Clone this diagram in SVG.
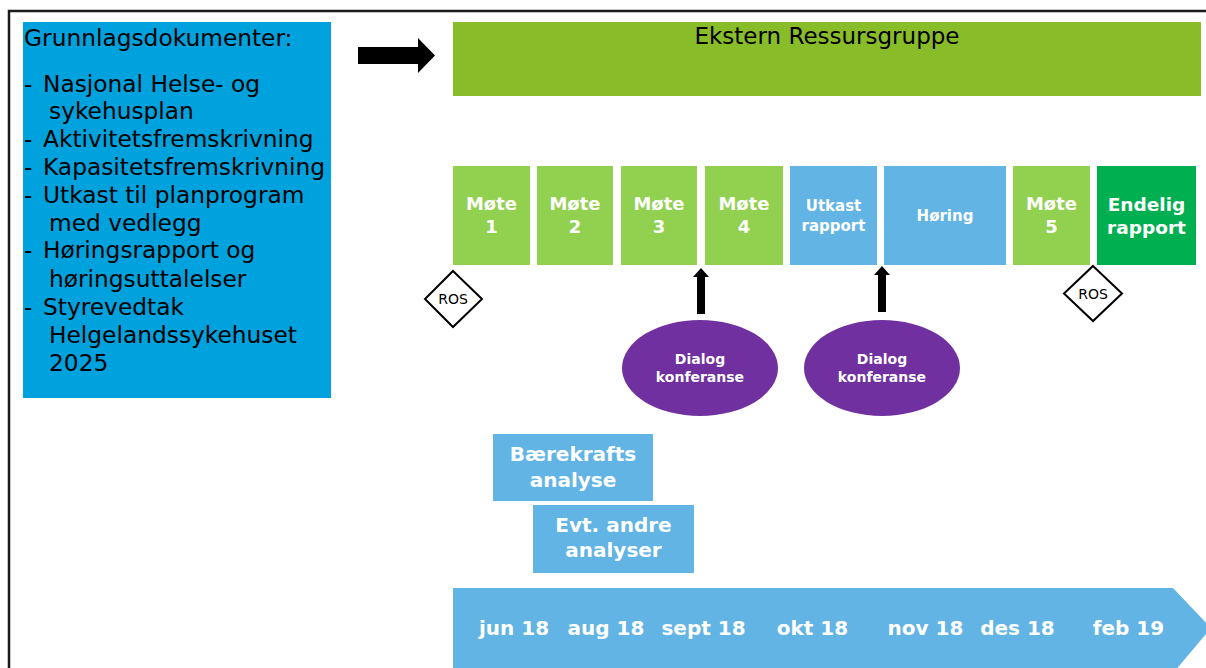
<svg xmlns="http://www.w3.org/2000/svg" width="1206" height="668" viewBox="0 0 1206 668">
<style>
text{font-family:"DejaVu Sans",Verdana,sans-serif}
.doc{font-size:23.3px;fill:#000}
.w{fill:#fff;font-weight:bold;text-anchor:middle}
.lg{fill:#92D050}
.bl{fill:#62B4E4}
.ros{fill:#fff;stroke:#000;stroke-width:2}
.rost{font-size:14px;fill:#000;text-anchor:middle}
.ell{fill:#7030A0}
</style>
<rect x="0" y="0" width="1206" height="668" fill="#fff"/>
<path d="M9,668 V11 H1206" fill="none" stroke="#1a1a1a" stroke-width="2.5"/>

<g id="grunnlag">
<rect x="23" y="22" width="308" height="376" fill="#00A2DE"/>
<text class="doc" x="24" y="46">Grunnlagsdokumenter:</text>
<text class="doc" y="92"><tspan x="24">-</tspan><tspan x="43">Nasjonal Helse- og</tspan></text>
<text class="doc" x="49" y="119">sykehusplan</text>
<text class="doc" y="147"><tspan x="24">-</tspan><tspan x="43">Aktivitetsfremskrivning</tspan></text>
<text class="doc" y="175"><tspan x="24">-</tspan><tspan x="43">Kapasitetsfremskrivning</tspan></text>
<text class="doc" y="203"><tspan x="24">-</tspan><tspan x="43">Utkast til planprogram</tspan></text>
<text class="doc" x="49" y="231">med vedlegg</text>
<text class="doc" y="258"><tspan x="24">-</tspan><tspan x="43">Høringsrapport og</tspan></text>
<text class="doc" x="49" y="287">høringsuttalelser</text>
<text class="doc" y="315"><tspan x="24">-</tspan><tspan x="43">Styrevedtak</tspan></text>
<text class="doc" x="49" y="343">Helgelandssykehuset</text>
<text class="doc" x="49" y="371">2025</text>
</g>

<g id="ekstern">
<rect x="453" y="22" width="748" height="74" fill="#88BC28"/>
<text x="827" y="44" font-size="23" text-anchor="middle" fill="#000">Ekstern Ressursgruppe</text>
</g>

<g id="mote1"><rect class="lg" x="453" y="166" width="77" height="99"/><text class="w" font-size="18" x="491.5" y="210">Møte</text><text class="w" font-size="18" x="491.5" y="233">1</text></g>
<g id="mote2"><rect class="lg" x="537" y="166" width="76" height="99"/><text class="w" font-size="18" x="575" y="210">Møte</text><text class="w" font-size="18" x="575" y="233">2</text></g>
<g id="mote3"><rect class="lg" x="621" y="166" width="76" height="99"/><text class="w" font-size="18" x="659" y="210">Møte</text><text class="w" font-size="18" x="659" y="233">3</text></g>
<g id="mote4"><rect class="lg" x="705" y="166" width="78" height="99"/><text class="w" font-size="18" x="744" y="210">Møte</text><text class="w" font-size="18" x="744" y="233">4</text></g>
<g id="utkast"><rect class="bl" x="790" y="166" width="87" height="99"/><text class="w" font-size="15" x="833.5" y="211">Utkast</text><text class="w" font-size="15" x="833.5" y="231">rapport</text></g>
<g id="horing"><rect class="bl" x="884" y="166" width="122" height="99"/><text class="w" font-size="15" x="945" y="221">Høring</text></g>
<g id="mote5"><rect class="lg" x="1013" y="166" width="77" height="99"/><text class="w" font-size="18" x="1051.5" y="210">Møte</text><text class="w" font-size="18" x="1051.5" y="233">5</text></g>
<g id="endelig"><rect x="1097" y="166" width="99" height="99" fill="#00B050"/><text class="w" font-size="18.5" x="1146.5" y="211">Endelig</text><text class="w" font-size="18.5" x="1146.5" y="234">rapport</text></g>

<g id="ros1"><polygon class="ros" points="453,271 482,299 453,327 425,299"/><text class="rost" x="453" y="304">ROS</text></g>
<g id="ros2"><polygon class="ros" points="1093,266 1122,293.5 1093,321 1064,293.5"/><text class="rost" x="1093" y="298.5">ROS</text></g>

<g id="dialog1"><ellipse class="ell" cx="700" cy="368" rx="78" ry="48"/><text class="w" font-size="14" x="700" y="364">Dialog</text><text class="w" font-size="14" x="700" y="382">konferanse</text></g>
<g id="dialog2"><ellipse class="ell" cx="882" cy="368" rx="78" ry="48"/><text class="w" font-size="14" x="882" y="364">Dialog</text><text class="w" font-size="14" x="882" y="382">konferanse</text></g>

<g id="barekraft"><rect class="bl" x="493" y="434" width="160" height="67"/><text class="w" font-size="20" x="573" y="461">Bærekrafts</text><text class="w" font-size="20" x="573" y="487">analyse</text></g>
<g id="andre"><rect class="bl" x="533" y="505" width="161" height="68"/><text class="w" font-size="20" x="613.5" y="532">Evt. andre</text><text class="w" font-size="20" x="613.5" y="557">analyser</text></g>

<g id="tidslinje">
<polygon class="bl" points="453,588 1173,588 1211,628 1174,672 453,672"/>
<text class="w" font-size="20" x="514" y="635">jun 18</text>
<text class="w" font-size="20" x="606" y="635">aug 18</text>
<text class="w" font-size="20" x="703.5" y="635">sept 18</text>
<text class="w" font-size="20" x="812.5" y="635">okt 18</text>
<text class="w" font-size="20" x="925.5" y="635">nov 18</text>
<text class="w" font-size="20" x="1017.5" y="635">des 18</text>
<text class="w" font-size="20" x="1128.5" y="635">feb 19</text>
</g>

<g id="connectors">
<polygon points="358,47 418,47 418,38 435,55.5 418,73 418,64 358,64" fill="#000"/>
<polygon points="697,314 697,277 693,277 701,268 709,277 705,277 705,314" fill="#000"/>
<polygon points="878,312 878,275 874,275 882,266 890,275 886,275 886,312" fill="#000"/>
</g>
</svg>
